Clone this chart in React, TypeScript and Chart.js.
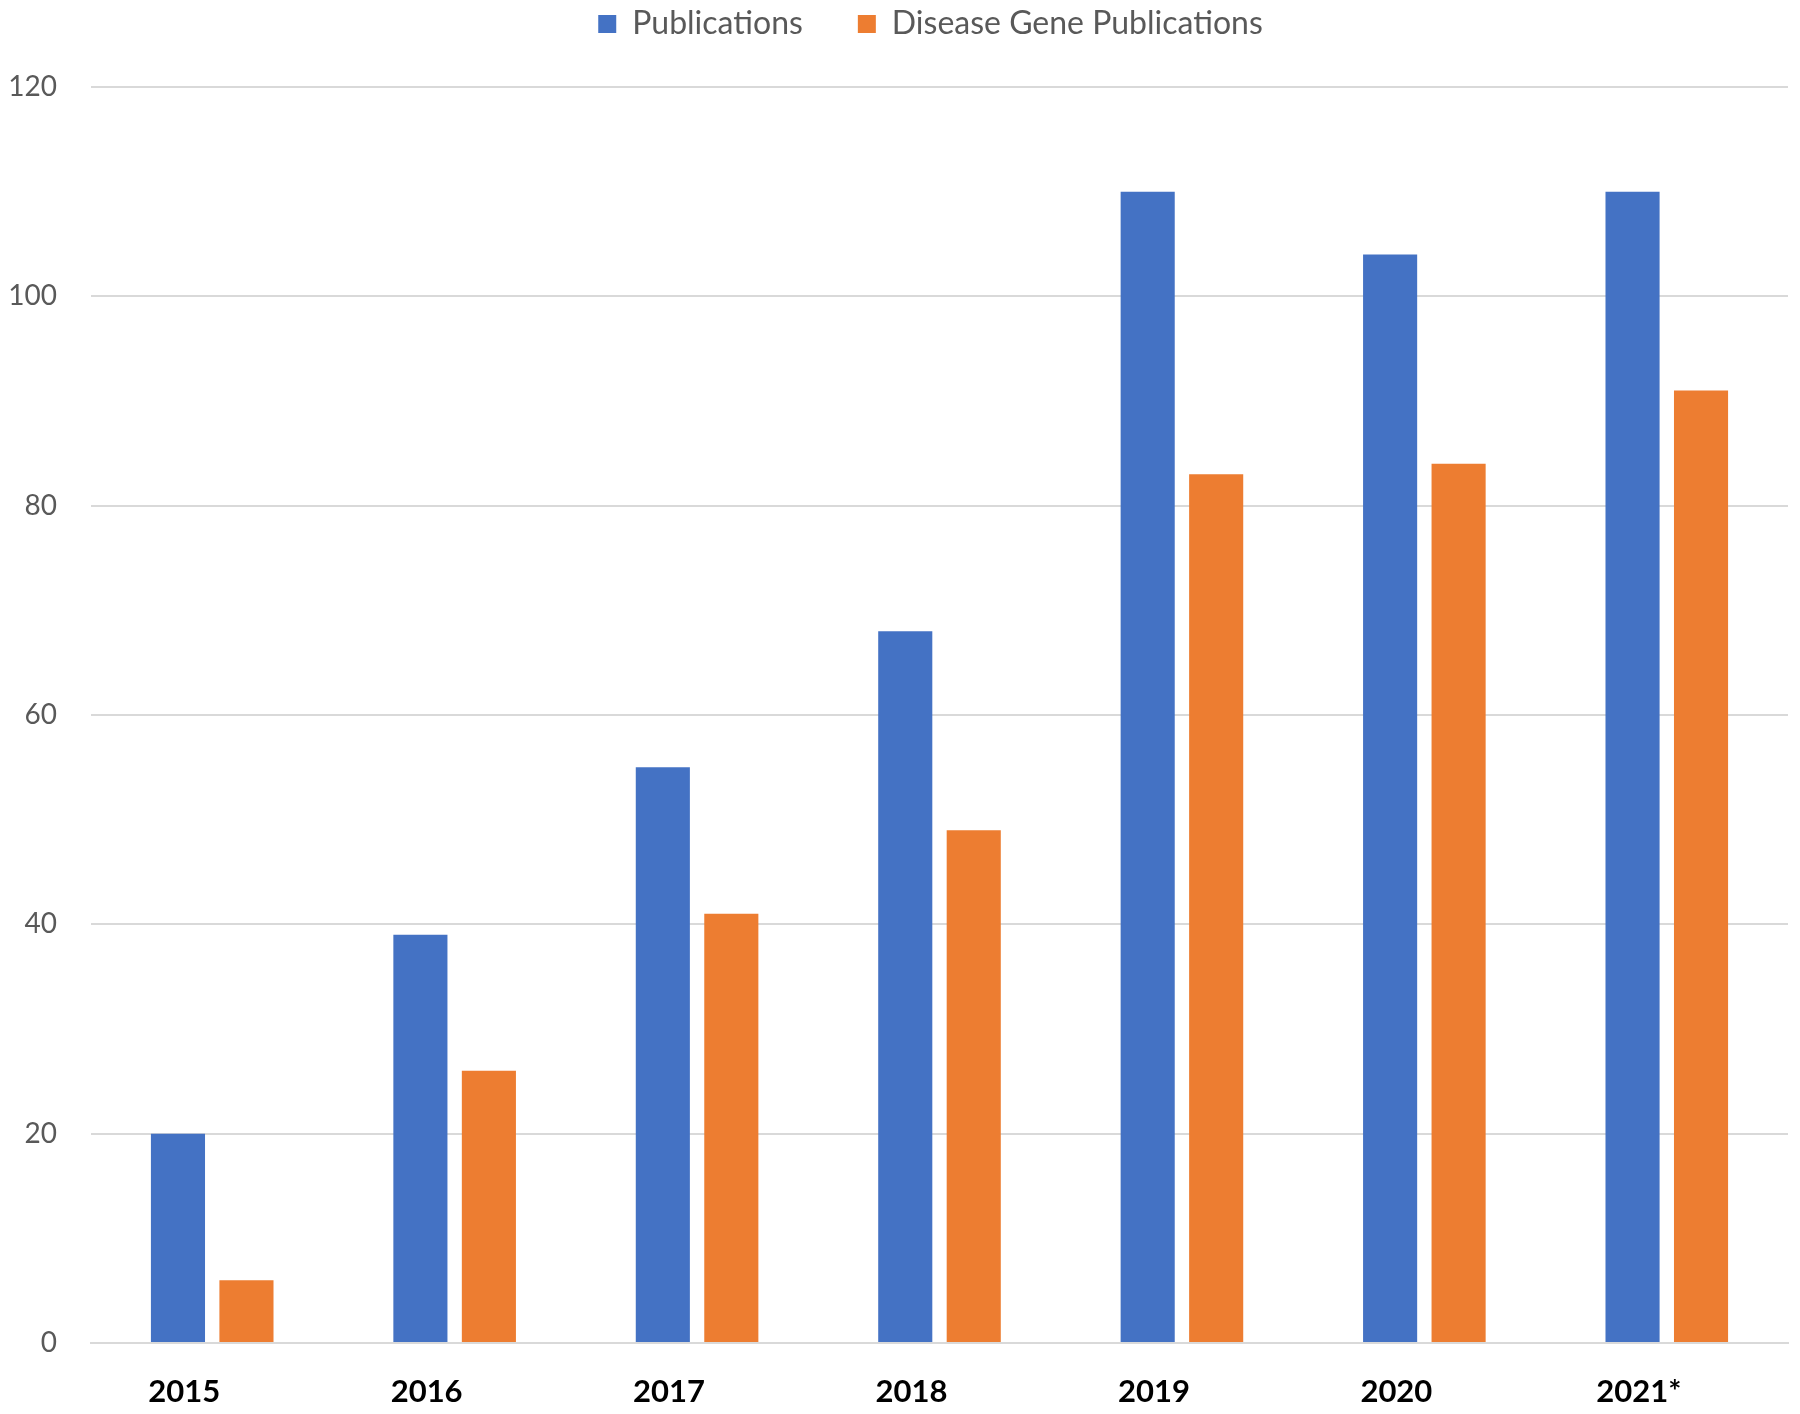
import React, { useEffect, useRef } from "react";
import { Chart, registerables } from "chart.js";

Chart.register(...registerables);

const years = ["2015", "2016", "2017", "2018", "2019", "2020", "2021*"];
const publications = [20, 39, 55, 68, 110, 104, 110];
const diseaseGenePublications = [6, 26, 41, 49, 83, 84, 91];
const yTicks = [0, 20, 40, 60, 80, 100, 120];

const BLUE = "#4472C4";
const ORANGE = "#ED7D31";
const GRID = "#D9D9D9";
const FONT = "Lato, 'Open Sans', sans-serif";

const LEGEND_FONT = 32;
const LEGEND_PAD = 55;
const LEGEND_H = 87;
const LEGEND_TOP = 24 - LEGEND_PAD - LEGEND_FONT / 2;

const legendTweak = {
  id: "legendTweak",
  beforeInit(chart: any) {
    const lg = chart.legend;
    if (!lg) return;
    const fit = lg.fit.bind(lg);
    lg.fit = () => {
      fit();
      lg.height = LEGEND_H;
    };
  },
  afterLayout(chart: any) {
    const lg = chart.legend;
    if (!lg) return;
    lg.top = LEGEND_TOP;
    lg.bottom = LEGEND_TOP + lg.height;
    lg.left = 61;
    lg.right = 1800;
    lg.width = lg.right - lg.left;
  },
};

export default function App() {
  const ref = useRef<HTMLCanvasElement | null>(null);
  useEffect(() => {
    if (!ref.current) return;
    const chart = new Chart(ref.current, {
      type: "bar",
      data: {
        labels: years,
        datasets: [
          {
            label: "Publications",
            data: publications,
            backgroundColor: BLUE,
            categoryPercentage: 0.565,
            barPercentage: 0.79,
          },
          {
            label: "Disease Gene Publications",
            data: diseaseGenePublications,
            backgroundColor: ORANGE,
            categoryPercentage: 0.565,
            barPercentage: 0.79,
          },
        ],
      },
      options: {
        animation: false,
        responsive: false,
        maintainAspectRatio: false,
        layout: { padding: { left: 0, right: 12, top: 0, bottom: 0 } },
        plugins: {
          legend: {
            display: true,
            position: "top",
            labels: {
              boxWidth: 18,
              boxHeight: 18,
              padding: LEGEND_PAD,
              color: "#595959",
              font: { family: FONT, size: LEGEND_FONT },
            },
          },
          tooltip: { enabled: false },
        },
        scales: {
          x: {
            grid: { display: false, drawTicks: false },
            border: { display: true, color: GRID, width: 2 },
            ticks: {
              color: "#000000",
              padding: 30,
              labelOffset: -28,
              font: { family: FONT, size: 31, weight: "bold" },
            },
            afterFit(scale: any) {
              scale.height = 71;
            },
          },
          y: {
            min: 0,
            max: 120,
            afterBuildTicks(scale: any) {
              scale.ticks = yTicks.map((v) => ({ value: v }));
            },
            grid: { color: GRID, lineWidth: 2, drawTicks: false },
            border: { display: false },
            ticks: {
              color: "#595959",
              padding: 34,
              font: { family: FONT, size: 28 },
            },
            afterFit(scale: any) {
              scale.width = 91;
            },
          },
        },
      },
      plugins: [legendTweak],
    });
    return () => chart.destroy();
  }, []);

  return (
    <div style={{ position: "fixed", left: 0, top: 0, width: 1800, height: 1414, background: "#fff" }}>
      <canvas ref={ref} width={1800} height={1414} style={{ width: 1800, height: 1414, display: "block" }} />
    </div>
  );
}
